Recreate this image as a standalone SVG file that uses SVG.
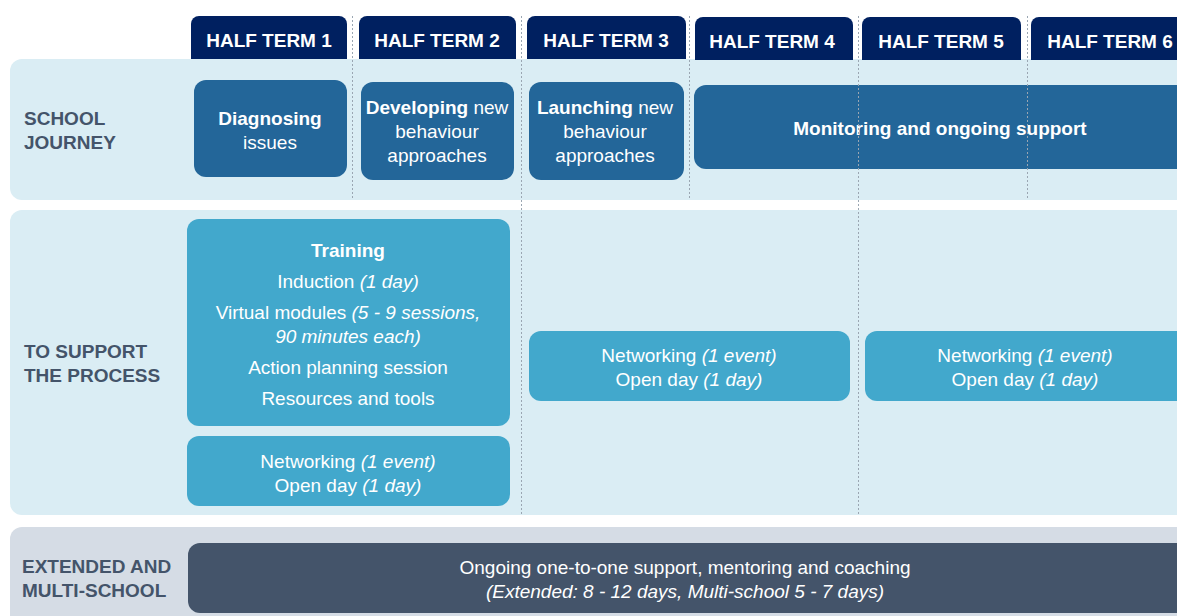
<svg xmlns="http://www.w3.org/2000/svg" width="1177" height="616" viewBox="0 0 1177 616">
<style>
.tab{fill:#002060}
.tabt{font-family:"Liberation Sans",Arial,sans-serif;font-weight:bold;font-size:19px;fill:#ffffff;text-anchor:middle}
.lane1{fill:#daedf4}
.lane3{fill:#d5dce5}
.lbl{font-family:"Liberation Sans",Arial,sans-serif;font-weight:bold;font-size:19px;fill:#44546a}
.dk{fill:#236699}
.lt{fill:#42a8cc}
.sl{fill:#44546a}
.t{font-family:"Liberation Sans",Arial,sans-serif;font-size:19px;fill:#ffffff;text-anchor:middle}
.b{font-weight:bold}
.i{font-style:italic}
.dash{stroke:#9aa6b2;stroke-width:1;stroke-dasharray:2 2;fill:none}
</style>
<rect width="1177" height="616" fill="#ffffff"/>
<g id="lanes">
<rect class="lane1" x="10" y="59" width="1180" height="141" rx="12"/>
<rect class="lane1" x="10" y="210" width="1180" height="305" rx="12"/>
<rect class="lane3" x="10" y="527" width="1180" height="100" rx="12"/>
</g>
<g id="tabs">
<g id="ht1"><path class="tab" d="M191 59V24a8 8 0 0 1 8-8h140a8 8 0 0 1 8 8v35z"/><text class="tabt" x="269" y="47">HALF TERM 1</text></g>
<g id="ht2"><path class="tab" d="M359 59V24a8 8 0 0 1 8-8h141a8 8 0 0 1 8 8v35z"/><text class="tabt" x="437" y="47">HALF TERM 2</text></g>
<g id="ht3"><path class="tab" d="M527 59V24a8 8 0 0 1 8-8h143a8 8 0 0 1 8 8v35z"/><text class="tabt" x="606" y="47">HALF TERM 3</text></g>
<g id="ht4"><path class="tab" d="M695 60V25a8 8 0 0 1 8-8h142a8 8 0 0 1 8 8v35z"/><text class="tabt" x="772" y="48">HALF TERM 4</text></g>
<g id="ht5"><path class="tab" d="M862 60V25a8 8 0 0 1 8-8h143a8 8 0 0 1 8 8v35z"/><text class="tabt" x="941" y="48">HALF TERM 5</text></g>
<g id="ht6"><path class="tab" d="M1031 60V25a8 8 0 0 1 8-8h150v43z"/><text class="tabt" x="1110" y="48">HALF TERM 6</text></g>
</g>
<g id="row-labels">
<text class="lbl" x="24" y="125">SCHOOL</text>
<text class="lbl" x="24" y="149">JOURNEY</text>
<text class="lbl" x="24" y="358">TO SUPPORT</text>
<text class="lbl" x="24" y="382">THE PROCESS</text>
<text class="lbl" x="22" y="573">EXTENDED AND</text>
<text class="lbl" x="22" y="597">MULTI-SCHOOL</text>
</g>
<g id="diagnosing"><rect class="dk" x="194" y="80" width="153" height="97" rx="12"/>
<text class="t" x="270" y="125"><tspan class="b">Diagnosing</tspan></text>
<text class="t" x="270" y="149">issues</text></g>
<g id="developing"><rect class="dk" x="361" y="82" width="153" height="98" rx="12"/>
<text class="t" x="437" y="114"><tspan class="b">Developing</tspan> new</text>
<text class="t" x="437" y="138">behaviour</text>
<text class="t" x="437" y="162">approaches</text></g>
<g id="launching"><rect class="dk" x="529" y="82" width="155" height="98" rx="12"/>
<text class="t" x="605" y="114"><tspan class="b">Launching</tspan> new</text>
<text class="t" x="605" y="138">behaviour</text>
<text class="t" x="605" y="162">approaches</text></g>
<g id="monitoring"><rect class="dk" x="694" y="85" width="500" height="84" rx="12"/>
<text class="t b" x="940" y="135">Monitoring and ongoing support</text></g>
<g id="training"><rect class="lt" x="187" y="219" width="323" height="207" rx="12"/>
<text class="t b" x="348" y="257">Training</text>
<text class="t" x="348" y="288">Induction <tspan class="i">(1 day)</tspan></text>
<text class="t" x="348" y="319">Virtual modules <tspan class="i">(5 - 9 sessions,</tspan></text>
<text class="t i" x="348" y="343">90 minutes each)</text>
<text class="t" x="348" y="374">Action planning session</text>
<text class="t" x="348" y="405">Resources and tools</text></g>
<g id="networking1"><rect class="lt" x="187" y="436" width="323" height="70" rx="12"/>
<text class="t" x="348" y="468">Networking <tspan class="i">(1 event)</tspan></text>
<text class="t" x="348" y="492">Open day <tspan class="i">(1 day)</tspan></text></g>
<g id="networking2"><rect class="lt" x="529" y="331" width="321" height="70" rx="12"/>
<text class="t" x="689" y="362">Networking <tspan class="i">(1 event)</tspan></text>
<text class="t" x="689" y="386">Open day <tspan class="i">(1 day)</tspan></text></g>
<g id="networking3"><rect class="lt" x="865" y="331" width="330" height="70" rx="12"/>
<text class="t" x="1025" y="362">Networking <tspan class="i">(1 event)</tspan></text>
<text class="t" x="1025" y="386">Open day <tspan class="i">(1 day)</tspan></text></g>
<g id="ongoing"><rect class="sl" x="188" y="543" width="1005" height="70" rx="12"/>
<text class="t" x="685" y="574">Ongoing one-to-one support, mentoring and coaching</text>
<text class="t i" x="685" y="598">(Extended: 8 - 12 days, Multi-school 5 - 7 days)</text></g>
<g id="connectors">
<line class="dash" x1="352.5" y1="16" x2="352.5" y2="200"/>
<line class="dash" x1="521.5" y1="16" x2="521.5" y2="515"/>
<line class="dash" x1="689.5" y1="16" x2="689.5" y2="200"/>
<line class="dash" x1="858.5" y1="16" x2="858.5" y2="515"/>
<line class="dash" x1="1027.5" y1="16" x2="1027.5" y2="198"/>
</g>
</svg>
